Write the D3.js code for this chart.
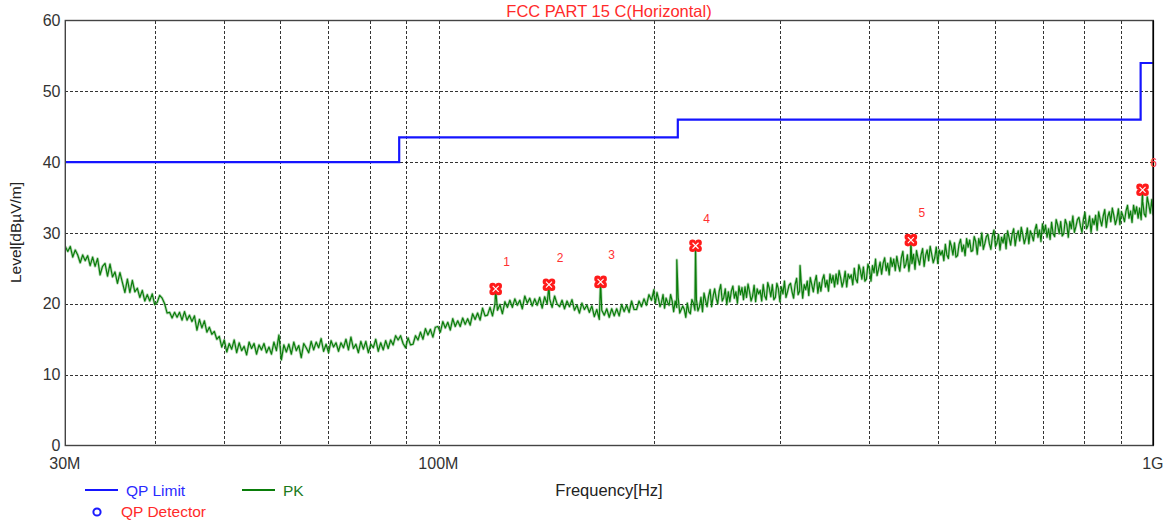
<!DOCTYPE html>
<html>
<head>
<meta charset="utf-8">
<script src="https://cdn.jsdelivr.net/npm/d3@7"></script>
<style>
  html, body { margin: 0; padding: 0; background: #fff; }
  svg { display: block; font-family: "Liberation Sans", Arial, sans-serif; }
</style>
</head>
<body>
<svg id="chart" width="1170" height="523"></svg>
<script>
// Radiated emission scan, 30 MHz – 1 GHz, horizontal antenna polarisation.

// Frequency axis (MHz) and level axis (dBµV/m)
const freqStartMHz = 30;
const freqStopMHz = 1000;
const levelTicks = [0, 10, 20, 30, 40, 50, 60];
const freqGridMHz = [40, 50, 60, 70, 80, 90, 100, 200, 300, 400, 500, 600, 700, 800, 900];
const freqLabelMHz = [30, 100, 1000];
const freqLabelText = ["30M", "100M", "1G"];

// FCC Part 15 C quasi-peak limit (step edges in MHz, level in dBµV/m)
const limitFreqMHz = [30, 88, 88, 216, 216, 960, 960, 1000];
const limitLevel = [40, 40, 43.5, 43.5, 46, 46, 54, 54];

// Peak sweep, low band: 30–200 MHz on a log-spaced grid
const pkLowStartMHz = 30;
const pkLowStopMHz = 200;
const pkLowLevels = [
  28.1, 27.4, 28.1, 26.6, 27.6, 26.9, 25.8, 26.9, 26.1, 26.8,
  25.4, 26.6, 25.3, 26.4, 24.1, 25.3, 25.7, 23.9, 25.6, 23.8,
  24.5, 22.9, 24.4, 23.0, 21.6, 23.5, 21.6, 23.3, 21.7, 22.2,
  20.9, 21.9, 20.4, 21.3, 20.4, 21.4, 19.9, 20.2, 21.2, 20.8,
  20.0, 18.7, 18.8, 18.0, 18.8, 18.1, 18.8, 17.7, 18.9, 17.7,
  18.4, 17.5, 18.3, 16.3, 17.8, 16.6, 17.6, 16.0, 16.7, 15.7,
  16.1, 15.0, 15.4, 13.9, 14.9, 13.2, 14.4, 13.6, 14.9, 13.1,
  14.5, 13.4, 14.0, 12.8, 14.6, 13.7, 14.4, 12.9, 14.2, 13.5,
  14.4, 13.1, 13.9, 12.9, 14.6, 13.4, 15.6, 12.1, 14.2, 13.2,
  14.3, 12.9, 14.6, 13.4, 14.1, 12.4, 14.4, 13.8, 13.1, 14.7,
  13.5, 14.6, 13.8, 15.1, 13.3, 14.3, 13.1, 14.8, 13.9, 14.5,
  13.3, 14.5, 13.8, 15.0, 13.5, 15.3, 13.7, 14.3, 13.1, 14.7,
  13.6, 14.7, 13.1, 14.3, 13.8, 15.0, 13.3, 14.5, 13.5, 14.8,
  13.7, 14.9, 14.2, 15.5, 14.9, 15.5, 14.4, 13.8, 15.2, 14.2,
  14.3, 15.5, 14.9, 16.0, 15.0, 16.5, 15.6, 16.4, 15.3, 16.7,
  16.8, 16.0, 17.5, 16.6, 17.4, 16.3, 17.9, 16.8, 17.6, 16.8,
  18.0, 17.1, 17.9, 17.0, 18.6, 17.8, 18.7, 17.7, 19.4, 18.3,
  18.4, 19.5, 18.3, 20.0, 19.1, 19.9, 18.6, 20.3, 19.5, 20.5,
  19.5, 20.7, 19.8, 20.5, 19.3, 21.1, 20.1, 20.8, 19.7, 20.7,
  19.8, 20.9, 19.4, 21.0, 20.0, 20.7, 19.5, 21.1, 20.0, 19.6,
  20.5, 19.3, 20.4, 19.6, 20.6, 19.1, 19.8, 18.7, 20.1, 19.2,
  19.8, 18.8, 19.7, 18.2, 19.2, 17.8, 19.1, 18.4, 19.3, 18.1,
  19.3, 18.3, 19.3, 18.3, 19.9, 18.9, 19.8, 18.8, 20.4, 19.2,
  19.2, 20.4, 19.6, 20.7, 19.8, 21.3, 20.5, 22.0
];

// Peak sweep, high band: 200–1000 MHz on a finer log-spaced grid
const pkHighStartMHz = 200;
const pkHighStopMHz = 1000;
const pkHighLevels = [
  21.3, 20.1, 21.6, 20.7, 19.6, 20.2, 21.3, 19.4, 20.8, 20.2,
  19.8, 21.3, 20.4, 18.9, 20.4, 19.5, 20.8, 18.7, 19.2, 19.7,
  19.2, 18.1, 20.1, 18.9, 18.6, 20.6, 20.1, 19.1, 20.6, 19.0,
  19.6, 20.9, 18.9, 21.5, 20.5, 19.6, 21.1, 22.0, 19.6, 21.1,
  22.1, 20.8, 20.0, 21.8, 22.7, 20.4, 20.9, 22.1, 19.9, 21.7,
  20.3, 21.8, 22.5, 20.8, 21.7, 20.1, 22.5, 21.3, 22.3, 20.6,
  22.4, 20.9, 22.8, 21.7, 20.4, 21.1, 22.6, 20.3, 22.1, 21.4,
  21.9, 20.4, 22.7, 21.1, 20.6, 23.0, 22.2, 21.0, 22.7, 20.6,
  20.9, 22.9, 22.1, 20.3, 22.4, 21.4, 23.2, 20.9, 21.7, 22.6,
  22.9, 21.7, 20.8, 22.7, 23.6, 21.3, 21.8, 23.1, 20.8, 22.7,
  22.0, 23.2, 21.2, 23.7, 22.7, 21.7, 23.1, 24.0, 21.5, 23.0,
  21.8, 23.4, 24.1, 22.4, 23.3, 21.8, 24.2, 23.0, 24.0, 22.4,
  24.2, 22.8, 24.7, 23.7, 22.4, 23.2, 24.6, 22.4, 24.2, 23.6,
  24.1, 22.7, 25.0, 23.5, 23.0, 25.5, 24.7, 23.5, 25.2, 23.2,
  23.5, 25.6, 24.9, 23.2, 25.4, 24.4, 26.3, 24.0, 24.9, 25.9,
  24.2, 25.7, 26.5, 24.7, 25.7, 24.1, 26.5, 25.3, 26.3, 24.7,
  26.7, 25.5, 24.6, 26.5, 27.4, 25.1, 25.6, 26.9, 24.6, 26.5,
  25.7, 27.0, 24.9, 27.5, 26.4, 25.5, 26.9, 27.8, 25.3, 26.8,
  27.6, 26.1, 28.1, 27.0, 25.8, 26.5, 28.0, 25.7, 27.6, 26.9,
  27.5, 26.1, 28.4, 26.9, 26.4, 28.9, 28.1, 26.9, 28.6, 26.6,
  26.8, 28.4, 29.1, 27.4, 28.3, 26.8, 29.2, 28.0, 29.0, 27.4,
  27.5, 29.5, 28.8, 27.0, 29.2, 28.2, 30.0, 27.7, 28.5, 29.5,
  29.8, 28.5, 27.7, 29.5, 30.4, 28.1, 28.6, 29.8, 27.6, 29.4,
  28.6, 29.8, 27.8, 30.3, 29.3, 28.3, 29.8, 30.6, 28.2, 29.6,
  30.3, 28.9, 30.8, 29.8, 28.5, 29.3, 30.7, 28.5, 30.3, 29.7,
  28.9, 30.4, 31.2, 29.4, 30.4, 28.8, 31.3, 30.0, 31.1, 29.4,
  30.6, 29.1, 31.5, 29.9, 29.5, 31.9, 31.1, 29.9, 31.6, 29.6,
  29.9, 31.9, 31.2, 29.4, 31.6, 30.6, 32.4, 30.1, 30.9, 31.9,
  32.2, 31.0, 30.1, 32.0, 32.9, 30.6, 31.1, 32.4, 30.1, 32.0,
  31.2, 32.5, 30.4, 33.0, 31.9, 31.0, 32.4, 33.3, 30.8, 32.3,
  33.0, 31.6, 33.5, 32.5, 31.2, 32.0, 33.4, 31.2, 33.0, 32.4,
  31.6, 33.1, 33.9, 32.1, 33.1, 31.5, 33.9, 32.7, 33.7, 32.1,
  33.5, 31.9, 34.5, 32.7, 32.3, 35.1, 34.0, 32.8, 34.7, 32.5
];

// Narrowband emissions riding on the sweep (MHz, dBµV/m)
const spikeFreqMHz = [120.1, 142.6, 168.4, 215.3, 228.7, 320.3, 457.8, 966.0];
const spikeLevel = [22.1, 22.7, 23.1, 26.2, 28.2, 25.4, 29.0, 36.1];

// Peak markers 1–6
const markerId = ["1", "2", "3", "4", "5", "6"];
const markerFreqMHz = [120.1, 142.6, 168.4, 228.7, 457.8, 966.0];
const markerLevel = [22.1, 22.7, 23.1, 28.2, 29.0, 36.1];

const svg = d3.select("#chart");
const plot = { left: 65.3, right: 1153.3, top: 20.5, bottom: 445.5 };

const x = d3.scaleLog().domain([freqStartMHz, freqStopMHz]).range([plot.left, plot.right]);
const y = d3.scaleLinear().domain([0, 60]).range([plot.bottom, plot.top]);

// Title
svg.append("text")
  .attr("x", 609).attr("y", 16.5)
  .attr("text-anchor", "middle")
  .attr("font-size", 16.5)
  .attr("fill", "#ff2a2a")
  .text("FCC PART 15 C(Horizontal)");

// Grid
const grid = svg.append("g")
  .attr("stroke", "#000")
  .attr("stroke-width", 1)
  .attr("stroke-dasharray", "3,2")
  .attr("stroke-opacity", 0.8)
  .attr("shape-rendering", "crispEdges");

grid.selectAll("line.v").data(freqGridMHz).join("line")
  .attr("class", "v")
  .attr("x1", d => Math.round(x(d)) + 0.5).attr("x2", d => Math.round(x(d)) + 0.5)
  .attr("y1", plot.top).attr("y2", plot.bottom);

grid.selectAll("line.h").data(levelTicks.filter(d => d > 0 && d < 60)).join("line")
  .attr("class", "h")
  .attr("x1", plot.left).attr("x2", plot.right)
  .attr("y1", d => Math.round(y(d)) + 0.5).attr("y2", d => Math.round(y(d)) + 0.5);

// Level axis labels
svg.append("g").selectAll("text").data(levelTicks).join("text")
  .attr("x", 60.5)
  .attr("y", d => y(d) + 5.5)
  .attr("text-anchor", "end")
  .attr("font-size", 16)
  .attr("fill", "#333")
  .text(d => d);

// Frequency axis labels
svg.append("g").selectAll("text").data(freqLabelMHz).join("text")
  .attr("x", d => x(d) - 0.5)
  .attr("y", 469)
  .attr("text-anchor", "middle")
  .attr("font-size", 16)
  .attr("fill", "#333")
  .text((d, i) => freqLabelText[i]);

// Axis titles
svg.append("text")
  .attr("x", 609).attr("y", 496)
  .attr("text-anchor", "middle")
  .attr("font-size", 16.5)
  .attr("fill", "#222")
  .text("Frequency[Hz]");

svg.append("text")
  .attr("transform", "translate(21,232.5) rotate(-90)")
  .attr("text-anchor", "middle")
  .attr("font-size", 15.5)
  .attr("fill", "#222")
  .text("Level[dBµV/m]");

// Clip region for traces
svg.append("clipPath").attr("id", "plotClip")
  .append("rect")
  .attr("x", plot.left).attr("y", plot.top)
  .attr("width", plot.right - plot.left).attr("height", plot.bottom - plot.top);

const traces = svg.append("g").attr("clip-path", "url(#plotClip)");

// Build the PK sweep from both bands, with narrowband emissions merged in
function sweepPoints(levels, startMHz, stopMHz) {
  const n = levels.length;
  return levels.map((v, i) => ({
    f: startMHz * Math.pow(stopMHz / startMHz, i / (n - 1)),
    v: v
  }));
}
const pkData = sweepPoints(pkLowLevels, pkLowStartMHz, pkLowStopMHz)
  .concat(sweepPoints(pkHighLevels, pkHighStartMHz, pkHighStopMHz))
  .concat(spikeFreqMHz.map((f, i) => ({ f: f, v: spikeLevel[i] })))
  .sort((a, b) => a.f - b.f);

const pkLine = d3.line().x(d => x(d.f)).y(d => y(d.v));

traces.append("path")
  .datum(pkData)
  .attr("d", pkLine)
  .attr("fill", "none")
  .attr("stroke", "#4e9e4e")
  .attr("stroke-width", 2.8)
  .attr("stroke-opacity", 0.4)
  .attr("stroke-linejoin", "round");

traces.append("path")
  .datum(pkData)
  .attr("d", pkLine)
  .attr("fill", "none")
  .attr("stroke", "#0a7d0a")
  .attr("stroke-width", 1.2)
  .attr("stroke-linejoin", "round");

// QP limit line
const limitData = limitFreqMHz.map((f, i) => ({ f: f, v: limitLevel[i] }));
traces.append("path")
  .datum(limitData)
  .attr("d", d3.line().x(d => x(d.f)).y(d => y(d.v)))
  .attr("fill", "none")
  .attr("stroke", "#1515ff")
  .attr("stroke-width", 2.2);

// Frame
svg.append("rect")
  .attr("x", plot.left).attr("y", plot.top)
  .attr("width", plot.right - plot.left).attr("height", plot.bottom - plot.top)
  .attr("fill", "none")
  .attr("stroke", "#444")
  .attr("stroke-width", 1.4);
svg.append("line")
  .attr("x1", plot.right).attr("x2", plot.right)
  .attr("y1", plot.top).attr("y2", plot.bottom)
  .attr("stroke", "#000").attr("stroke-width", 1.6);

// Peak markers: four-lobed red symbol with a white cross
const markers = svg.append("g");
const mk = markers.selectAll("g.mk").data(markerId).join("g")
  .attr("class", "mk")
  .attr("transform", (d, i) => `translate(${x(markerFreqMHz[i])},${y(markerLevel[i])})`);

[[-3, -3], [3, -3], [-3, 3], [3, 3]].forEach(([dx, dy]) => {
  mk.append("circle").attr("cx", dx).attr("cy", dy).attr("r", 3.3).attr("fill", "#ff1a1a");
});
mk.append("rect").attr("x", -3).attr("y", -3).attr("width", 6).attr("height", 6).attr("fill", "#ff1a1a");
mk.append("path")
  .attr("d", "M-3,-3L3,3M-3,3L3,-3")
  .attr("stroke", "#fff")
  .attr("stroke-width", 1.1);

markers.selectAll("text").data(markerId).join("text")
  .attr("x", (d, i) => x(markerFreqMHz[i]) + 11)
  .attr("y", (d, i) => y(markerLevel[i]) - 23)
  .attr("text-anchor", "middle")
  .attr("font-size", 12)
  .attr("fill", "#ff3030")
  .text(d => d);

// Legend
const legend = svg.append("g");
legend.append("line").attr("x1", 85).attr("x2", 118).attr("y1", 490).attr("y2", 490)
  .attr("stroke", "#1515ff").attr("stroke-width", 2);
legend.append("text").attr("x", 126).attr("y", 495.5).attr("font-size", 15.5)
  .attr("fill", "#2a2aff").text("QP Limit");

legend.append("line").attr("x1", 242).attr("x2", 275).attr("y1", 490).attr("y2", 490)
  .attr("stroke", "#0a7d0a").attr("stroke-width", 2);
legend.append("text").attr("x", 283).attr("y", 495.5).attr("font-size", 15.5)
  .attr("fill", "#1a7a1a").text("PK");

legend.append("circle").attr("cx", 97).attr("cy", 512).attr("r", 3.6)
  .attr("fill", "none").attr("stroke", "#1a1aff").attr("stroke-width", 2);
legend.append("text").attr("x", 121).attr("y", 517).attr("font-size", 15.5)
  .attr("fill", "#ff2a2a").text("QP Detector");
</script>
</body>
</html>
